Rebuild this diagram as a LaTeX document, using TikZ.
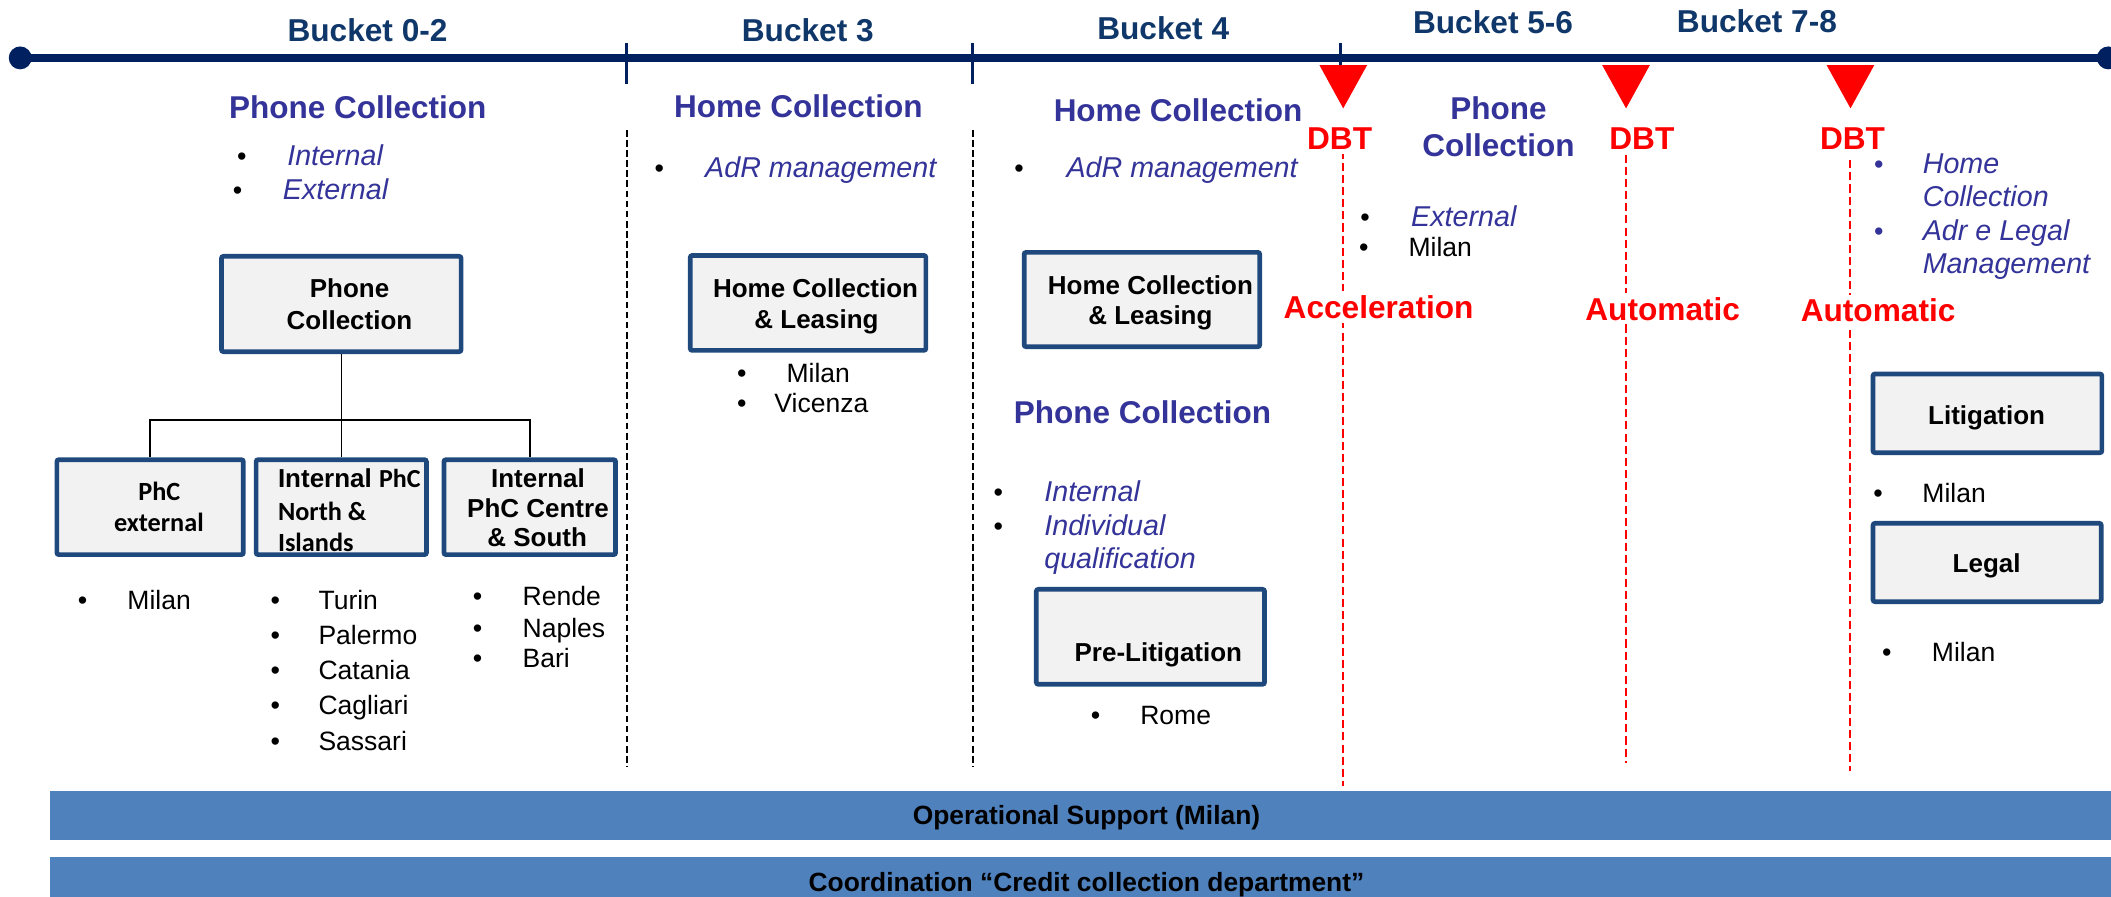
\documentclass[tikz,border=0pt]{standalone}
\usepackage{fontspec}
\setmainfont{Liberation Sans}
\newfontfamily\calfont{Carlito}
\usetikzlibrary{backgrounds}
\definecolor{navy}{RGB}{0,32,96}
\definecolor{bucketblue}{RGB}{15,55,105}
\definecolor{headblue}{RGB}{51,51,153}
\definecolor{boxblue}{RGB}{31,73,125}
\definecolor{boxgrey}{RGB}{242,242,242}
\definecolor{barblue}{RGB}{79,129,189}
\tikzset{
  bucket/.style={anchor=base, font=\bfseries\fontsize{23.5}{28}\selectfont, text=bucketblue, inner sep=0pt},
  head/.style={anchor=base, font=\bfseries\fontsize{23.4}{28}\selectfont, text=headblue, inner sep=0pt},
  itm/.style={anchor=base west, font=\itshape\fontsize{21.3}{25}\selectfont, text=headblue, inner sep=0pt},
  blk/.style={anchor=base west, font=\fontsize{19.7}{24}\selectfont, inner sep=0pt},
  bul/.style={anchor=base, font=\fontsize{20}{24}\selectfont, inner sep=0pt},
  redlbl/.style={anchor=base, font=\bfseries\fontsize{23.5}{28}\selectfont, text=red, fill=white, inner sep=3pt},
  boxnode/.style={draw=boxblue, line width=3.5pt, fill=boxgrey, rounded corners=1.5pt, inner sep=0pt},
  boxtxt/.style={anchor=base, font=\bfseries\fontsize{19.3}{23}\selectfont, inner sep=0pt},
  calbox/.style={anchor=base, font=\calfont\bfseries\fontsize{19.5}{23}\selectfont, inner sep=0pt},
  barnode/.style={fill=barblue, inner sep=0pt},
  bartxt/.style={anchor=base, font=\bfseries\fontsize{19.6}{23}\selectfont, inner sep=0pt},
  sepdash/.style={black, line width=1.3pt, dash pattern=on 5pt off 2.5pt},
  reddash/.style={red, line width=1.5pt, dash pattern=on 6pt off 3pt},
  tick/.style={navy, line width=2.2pt},
  tree/.style={black, line width=1.1pt}
}
\begin{document}
\begin{tikzpicture}[x=1pt,y=-1pt]
\useasboundingbox (0,0) rectangle (1568,666);

% ---------------- timeline ----------------
\coordinate (tl0) at (15,43);
\coordinate (tl1) at (1566,43);
\draw[navy, line width=5.7pt] (tl0) -- (tl1);
\fill[navy] (tl0) circle (8.5pt);
\fill[navy] (tl1) circle (8.5pt);
\coordinate (t1a) at (465.5,32); \coordinate (t1b) at (465.5,62.5);
\coordinate (t2a) at (722.5,32); \coordinate (t2b) at (722.5,62.5);
\coordinate (t3a) at (996,32);   \coordinate (t3b) at (996,62.5);
\draw[tick] (t1a) -- (t1b);
\draw[tick] (t2a) -- (t2b);
\draw[tick] (t3a) -- (t3b);

\node[bucket] (bk02) at (273,30.5) {Bucket 0-2};
\node[bucket] (bk3)  at (600,30.5) {Bucket 3};
\node[bucket] (bk4)  at (864,29.5) {Bucket 4};
\node[bucket] (bk56) at (1109,25) {Bucket 5-6};
\node[bucket] (bk78) at (1305,24) {Bucket 7-8};

% ---------------- separators ----------------
\coordinate (d1a) at (465.5,96.5); \coordinate (d1b) at (465.5,570);
\coordinate (d2a) at (722.5,96.5); \coordinate (d2b) at (722.5,570);
\draw[sepdash] (d1a) -- (d1b);
\draw[sepdash] (d2a) -- (d2b);

\coordinate (r1a) at (997.5,112); \coordinate (r1b) at (997.5,583.6);
\coordinate (r2a) at (1208,115);  \coordinate (r2b) at (1208,567);
\coordinate (r3a) at (1374,119);  \coordinate (r3b) at (1374,573);
\draw[reddash] (r1a) -- (r1b);
\draw[reddash] (r2a) -- (r2b);
\draw[reddash] (r3a) -- (r3b);

\fill[red] (980,48.3) -- (1015.5,48.3) -- (997.7,80.5) -- cycle;
\fill[red] (1190,48.3) -- (1225.5,48.3) -- (1207.8,80.5) -- cycle;
\fill[red] (1356.7,48.3) -- (1392.2,48.3) -- (1374.5,80.5) -- cycle;

\node[redlbl] (dbt1) at (995,111.4) {DBT};
\node[redlbl] (dbt2) at (1219.5,111.4) {DBT};
\node[redlbl] (dbt3) at (1376,111.4) {DBT};
\node[redlbl] (acc)  at (1024,236.5) {Acceleration};
\node[redlbl] (aut1) at (1235,237.7) {Automatic};
\node[redlbl] (aut2) at (1395,239) {Automatic};

% ---------------- headings ----------------
\node[head] (h1)   at (265.8,87.9) {Phone Collection};
\node[head] (h3)   at (593,87.4) {Home Collection};
\node[head] (h4)   at (875,90) {Home Collection};
\node[head, anchor=center, align=center, font=\bfseries\fontsize{23.4}{27.3}\selectfont] (h56) at (1113,94.2) {Phone\\Collection};
\node[head] (h4b)  at (848.6,314.4) {Phone Collection};

% ---------------- italic lists ----------------
\node[bul] (u1) at (179.7,123) {•};
\node[itm] (i1) at (213.2,123) {Internal};
\node[bul] (u2) at (176.4,148) {•};
\node[itm] (i2) at (210,148) {External};

\node[bul] (u3) at (489.7,131.7) {•};
\node[itm] (i3) at (523.6,131.7) {AdR management};
\node[bul] (u4) at (757,131.7) {•};
\node[itm] (i4) at (792,131.7) {AdR management};

\node[bul] (u5) at (741.6,372.6) {•};
\node[itm] (i5) at (775.5,372.6) {Internal};
\node[bul] (u6) at (741.6,397.4) {•};
\node[itm] (i6) at (775.5,397.4) {Individual};
\node[itm] (i6b) at (775.5,422) {qualification};

\node[bul] (u7) at (1014,167.9) {•};
\node[itm] (i7) at (1048,167.9) {External};
\node[bul] (u8) at (1013,190.7) {•};
\node[blk] (k8) at (1046,190.7) {Milan};

\node[bul, text=headblue] (u9) at (1395.5,128.8) {•};
\node[itm] (i9a) at (1428,128.8) {Home};
\node[itm] (i9b) at (1428,153.5) {Collection};
\node[bul, text=headblue] (u10) at (1395.5,178.3) {•};
\node[itm] (i10a) at (1428,178.3) {Adr e Legal};
\node[itm] (i10b) at (1428,203.5) {Management};

% ---------------- boxes ----------------
\node[boxnode, minimum width=178pt, minimum height=70.8pt] (pc) at (253.5,225.8) {};
\node[boxnode, minimum width=138.5pt, minimum height=70.5pt] (b1) at (111.5,376.7) {};
\node[boxnode, minimum width=126.5pt, minimum height=70.5pt] (b2) at (253.5,376.7) {};
\node[boxnode, minimum width=127.5pt, minimum height=70.5pt] (b3) at (393.5,376.7) {};
\node[boxnode, minimum width=175pt, minimum height=70.5pt] (hcl3) at (600.2,225) {};
\node[boxnode, minimum width=175pt, minimum height=70.1pt] (hcl4) at (848.2,222.5) {};
\node[boxnode, minimum width=169.5pt, minimum height=70.5pt] (pre) at (854.5,473) {};
\node[boxnode, minimum width=170pt, minimum height=58.5pt] (lit) at (1476.2,307) {};
\node[boxnode, minimum width=169.5pt, minimum height=58.2pt] (leg) at (1476,417.8) {};

\coordinate (j) at (253.5,312);
\begin{scope}[on background layer]
\draw[tree] (pc.south) -- (b2.north);
\draw[tree] (b1.north) |- (j) -| (b3.north);
\end{scope}

\node[boxtxt] (pct1) at (259.6,221) {Phone};
\node[boxtxt] (pct2) at (259.6,244.6) {Collection};
\node[calbox] (b1t1) at (118.4,371.4) {PhC};
\node[calbox] (b1t2) at (118,395) {external};
\node[boxtxt, anchor=base west] (b2t1) at (206.3,362) {Internal {\calfont PhC}};
\node[calbox, anchor=base west] (b2t2) at (206.3,386.3) {North \&};
\node[calbox, anchor=base west] (b2t3) at (206.3,409.8) {Islands};
\node[boxtxt] (b3t1) at (399.6,362) {Internal};
\node[boxtxt] (b3t2) at (399.6,384.3) {PhC Centre};
\node[boxtxt] (b3t3) at (399,406) {\& South};
\node[boxtxt] (h3t1) at (605.8,220.8) {Home Collection};
\node[boxtxt] (h3t2) at (606.5,243.9) {\& Leasing};
\node[boxtxt] (h4t1) at (854.5,218.4) {Home Collection};
\node[boxtxt] (h4t2) at (854.5,241.4) {\& Leasing};
\node[boxtxt] (pret) at (860.4,491.5) {Pre-Litigation};
\node[boxtxt] (litt) at (1475.6,315) {Litigation};
\node[boxtxt] (legt) at (1475.6,425.4) {Legal};

% ---------------- black lists ----------------
\node[bul] (v1) at (61.3,452.6) {•};
\node[blk] (c1) at (94.5,452.6) {Milan};

\node[bul] (v2) at (204.6,452.6) {•};
\node[blk] (c2) at (236.4,452.6) {Turin};
\node[bul] (v3) at (204.6,479) {•};
\node[blk] (c3) at (236.4,479) {Palermo};
\node[bul] (v4) at (204.6,505) {•};
\node[blk] (c4) at (236.4,505) {Catania};
\node[bul] (v5) at (204.6,531) {•};
\node[blk] (c5) at (236.4,531) {Cagliari};
\node[bul] (v6) at (204.6,557.6) {•};
\node[blk] (c6) at (236.4,557.6) {Sassari};

\node[bul] (v7) at (354.8,450) {•};
\node[blk] (c7) at (388,450) {Rende};
\node[bul] (v8) at (354.8,473.4) {•};
\node[blk] (c8) at (388,473.4) {Naples};
\node[bul] (v9) at (354.8,496) {•};
\node[blk] (c9) at (388,496) {Bari};

\node[bul] (v10) at (551,284.3) {•};
\node[blk] (c10) at (584,284.3) {Milan};
\node[bul] (v11) at (551,306.5) {•};
\node[blk] (c11) at (575,306.5) {Vicenza};

\node[bul] (v12) at (813.8,538.5) {•};
\node[blk] (c12) at (846.8,538.5) {Rome};

\node[bul] (v13) at (1395,373.4) {•};
\node[blk] (c13) at (1427.7,373.4) {Milan};
\node[bul] (v14) at (1401.4,491) {•};
\node[blk] (c14) at (1434.8,491) {Milan};

% ---------------- bottom bars ----------------
\node[barnode, minimum width=1531pt, minimum height=36.4pt] (bar1) at (802.5,605.8) {};
\node[bartxt] (bar1t) at (807,612.5) {Operational Support (Milan)};
\node[barnode, minimum width=1531pt, minimum height=29.5pt] (bar2) at (802.5,651.25) {};
\node[bartxt] (bar2t) at (807,662) {Coordination “Credit collection department”};
\end{tikzpicture}
\end{document}
